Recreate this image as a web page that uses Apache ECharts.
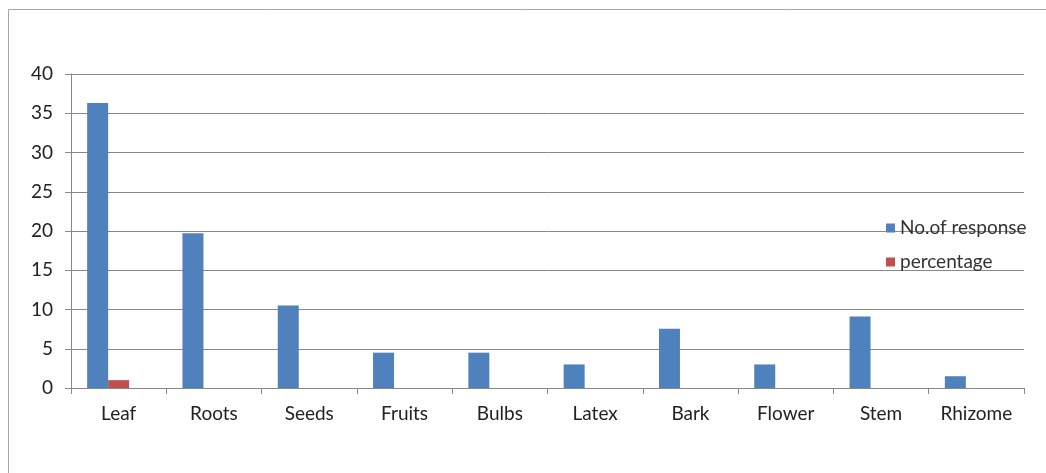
<!DOCTYPE html>
<html>
<head>
<meta charset="utf-8">
<script src="https://cdn.jsdelivr.net/npm/echarts@6/dist/echarts.min.js"></script>
<style>
html,body{margin:0;padding:0;background:#fff;}
#c{width:1046px;height:473px;}
</style>
</head>
<body>
<div id="c"></div>
<script>
const categories = ['Leaf','Roots','Seeds','Fruits','Bulbs','Latex','Bark','Flower','Stem','Rhizome'];
const responses = [36.3, 19.7, 10.5, 4.5, 4.5, 3.0, 7.55, 3.0, 9.1, 1.5];
const percentage = [1, 0, 0, 0, 0, 0, 0, 0, 0, 0];
const yTicks = [0, 5, 10, 15, 20, 25, 30, 35, 40];

const chart = echarts.init(document.getElementById('c'), null, {renderer:'canvas'});
const font = 'Lato, "Open Sans", sans-serif';
chart.setOption({
  animation: false,
  backgroundColor: '#fff',
  textStyle: {fontFamily: font},
  graphic: [{
    type: 'rect',
    shape: {x: 8.5, y: 9.5, width: 1100, height: 600},
    style: {fill: 'none', stroke: '#a6a6a6', lineWidth: 1},
    silent: true
  }],
  grid: {left: 71, right: 22, top: 74, bottom: 85, containLabel: false},
  legend: {
    data: ['No.of response', 'percentage'],
    orient: 'vertical',
    left: 886,
    top: 218,
    padding: 0,
    icon: 'rect',
    itemWidth: 9,
    itemHeight: 9,
    itemGap: 14,
    textStyle: {fontFamily: font, fontSize: 19, lineHeight: 20, color: '#333'}
  },
  xAxis: {
    type: 'category',
    data: categories,
    axisLine: {lineStyle: {color: '#888', width: 1}},
    axisTick: {show: true, length: 6, lineStyle: {color: '#888'}},
    axisLabel: {fontFamily: font, fontSize: 19, color: '#222', margin: 16}
  },
  yAxis: {
    type: 'value',
    min: yTicks[0],
    max: yTicks[yTicks.length-1],
    interval: 5,
    axisLine: {show: true, lineStyle: {color: '#888', width: 1}},
    axisTick: {show: true, length: 6, lineStyle: {color: '#888'}},
    splitLine: {lineStyle: {color: '#888', width: 1}},
    axisLabel: {fontFamily: font, fontSize: 19, color: '#222', margin: 18}
  },
  series: [
    {name: 'No.of response', type: 'bar', data: responses, barWidth: 21, barGap: '0%',
     itemStyle: {color: '#4F81BD'}},
    {name: 'percentage', type: 'bar', data: percentage, barWidth: 21, barGap: '0%',
     itemStyle: {color: '#C0504D'}},
    {name: '', type: 'bar', data: [], barWidth: 21, barGap: '0%'}
  ]
});
</script>
</body>
</html>
